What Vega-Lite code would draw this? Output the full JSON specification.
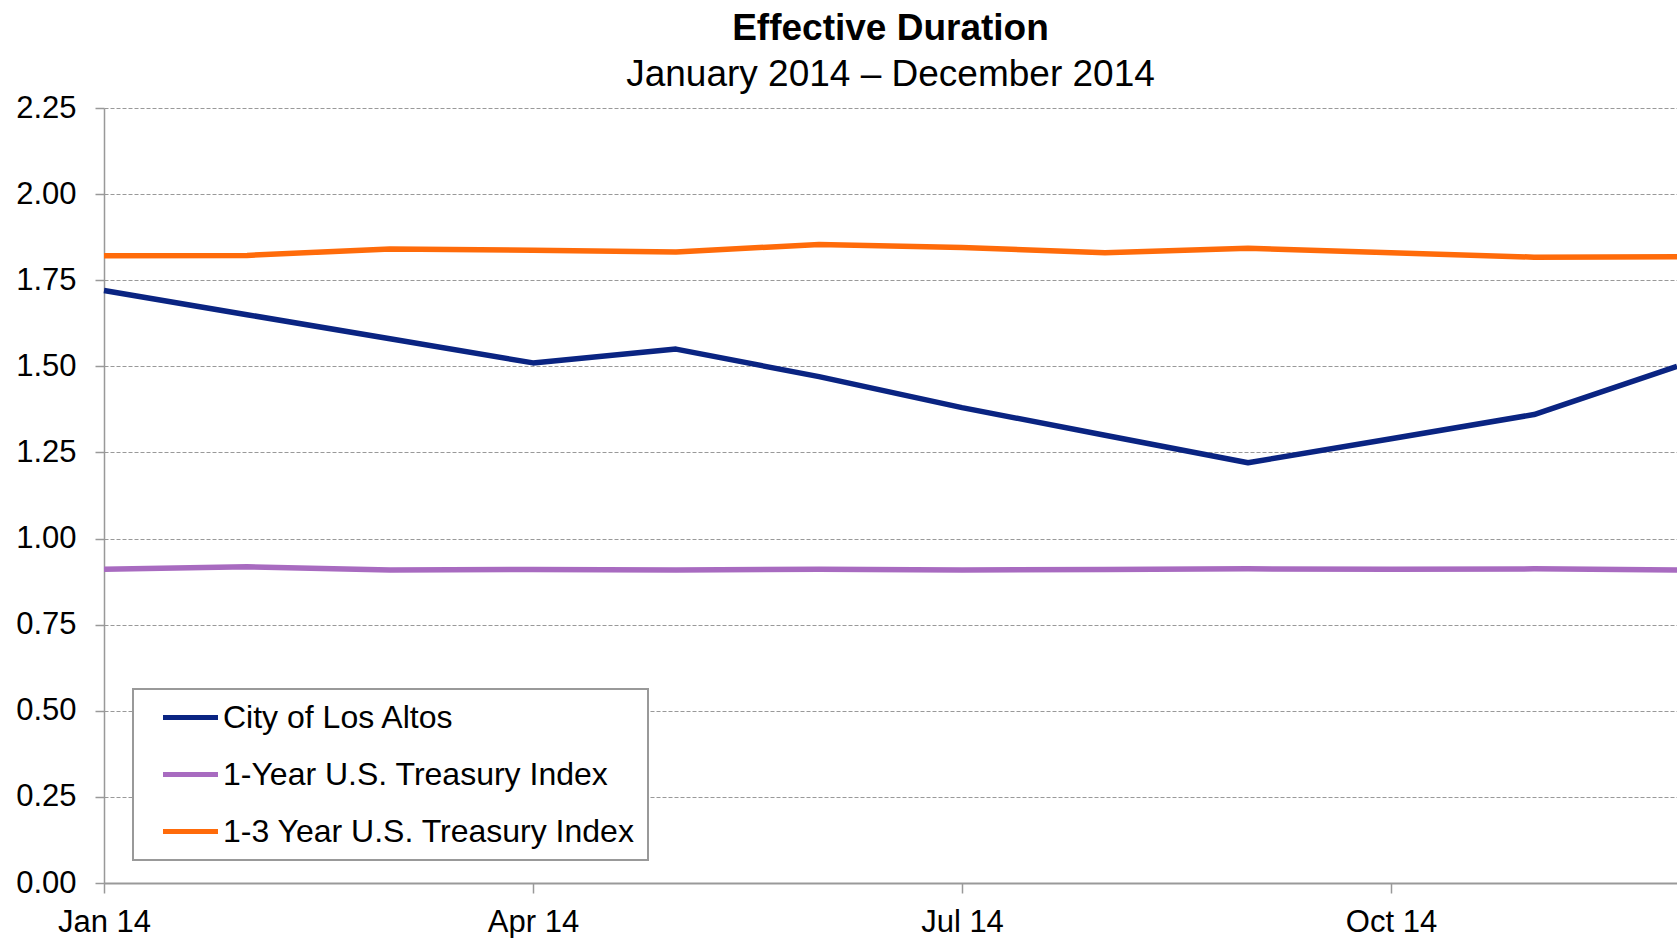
{
  "$schema": "https://vega.github.io/schema/vega-lite/v6.json",
  "width": 1573,
  "height": 775,
  "autosize": {"type": "none"},
  "padding": {"left": 104, "top": 108, "right": 0, "bottom": 55},
  "background": "white",
  "title": {
    "text": "Effective Duration",
    "subtitle": "January 2014 – December 2014",
    "anchor": "middle",
    "font": "Liberation Sans",
    "fontSize": 37,
    "fontWeight": "bold",
    "color": "black",
    "subtitleFont": "Liberation Sans",
    "subtitleFontSize": 37,
    "subtitleColor": "black",
    "subtitlePadding": 9,
    "offset": -2
  },
  "config": {
    "view": {"stroke": null},
    "axis": {
      "labelFont": "Liberation Sans",
      "labelFontSize": 31,
      "labelColor": "black",
      "domainColor": "#999999",
      "tickColor": "#999999",
      "title": null
    }
  },
  "data": {
    "values": [
      {"month": "Jan 14", "series": "City of Los Altos", "value": 1.72},
      {"month": "Feb 14", "series": "City of Los Altos", "value": 1.65},
      {"month": "Mar 14", "series": "City of Los Altos", "value": 1.58},
      {"month": "Apr 14", "series": "City of Los Altos", "value": 1.51},
      {"month": "May 14", "series": "City of Los Altos", "value": 1.55},
      {"month": "Jun 14", "series": "City of Los Altos", "value": 1.47},
      {"month": "Jul 14", "series": "City of Los Altos", "value": 1.38},
      {"month": "Aug 14", "series": "City of Los Altos", "value": 1.30},
      {"month": "Sep 14", "series": "City of Los Altos", "value": 1.22},
      {"month": "Oct 14", "series": "City of Los Altos", "value": 1.29},
      {"month": "Nov 14", "series": "City of Los Altos", "value": 1.36},
      {"month": "Dec 14", "series": "City of Los Altos", "value": 1.50},
      {"month": "Jan 14", "series": "1-Year U.S. Treasury Index", "value": 0.911},
      {"month": "Feb 14", "series": "1-Year U.S. Treasury Index", "value": 0.918},
      {"month": "Mar 14", "series": "1-Year U.S. Treasury Index", "value": 0.909},
      {"month": "Apr 14", "series": "1-Year U.S. Treasury Index", "value": 0.910},
      {"month": "May 14", "series": "1-Year U.S. Treasury Index", "value": 0.909},
      {"month": "Jun 14", "series": "1-Year U.S. Treasury Index", "value": 0.911},
      {"month": "Jul 14", "series": "1-Year U.S. Treasury Index", "value": 0.909},
      {"month": "Aug 14", "series": "1-Year U.S. Treasury Index", "value": 0.910},
      {"month": "Sep 14", "series": "1-Year U.S. Treasury Index", "value": 0.912},
      {"month": "Oct 14", "series": "1-Year U.S. Treasury Index", "value": 0.911},
      {"month": "Nov 14", "series": "1-Year U.S. Treasury Index", "value": 0.912},
      {"month": "Dec 14", "series": "1-Year U.S. Treasury Index", "value": 0.909},
      {"month": "Jan 14", "series": "1-3 Year U.S. Treasury Index", "value": 1.821},
      {"month": "Feb 14", "series": "1-3 Year U.S. Treasury Index", "value": 1.822},
      {"month": "Mar 14", "series": "1-3 Year U.S. Treasury Index", "value": 1.841},
      {"month": "Apr 14", "series": "1-3 Year U.S. Treasury Index", "value": 1.837},
      {"month": "May 14", "series": "1-3 Year U.S. Treasury Index", "value": 1.832},
      {"month": "Jun 14", "series": "1-3 Year U.S. Treasury Index", "value": 1.854},
      {"month": "Jul 14", "series": "1-3 Year U.S. Treasury Index", "value": 1.845},
      {"month": "Aug 14", "series": "1-3 Year U.S. Treasury Index", "value": 1.830},
      {"month": "Sep 14", "series": "1-3 Year U.S. Treasury Index", "value": 1.843},
      {"month": "Oct 14", "series": "1-3 Year U.S. Treasury Index", "value": 1.830},
      {"month": "Nov 14", "series": "1-3 Year U.S. Treasury Index", "value": 1.817},
      {"month": "Dec 14", "series": "1-3 Year U.S. Treasury Index", "value": 1.818}
    ]
  },
  "mark": {"type": "line", "strokeWidth": 5.5, "strokeJoin": "round", "clip": false},
  "encoding": {
    "x": {
      "field": "month",
      "type": "ordinal",
      "sort": null,
      "scale": {"type": "point", "padding": 0},
      "axis": {
        "values": ["Jan 14", "Apr 14", "Jul 14", "Oct 14"],
        "labelAngle": 0,
        "domainWidth": 2,
        "tickSize": 10,
        "tickWidth": 1.5,
        "labelPadding": 14,
        "grid": false
      }
    },
    "y": {
      "field": "value",
      "type": "quantitative",
      "scale": {"domain": [0, 2.25], "nice": false, "zero": true},
      "axis": {
        "values": [0, 0.25, 0.5, 0.75, 1, 1.25, 1.5, 1.75, 2, 2.25],
        "format": ".2f",
        "tickSize": 9,
        "tickWidth": 1.5,
        "domainWidth": 1.5,
        "labelPadding": 19,
        "grid": true,
        "gridColor": "#999999",
        "gridDash": [4, 2],
        "gridWidth": 1.2
      }
    },
    "color": {
      "field": "series",
      "type": "nominal",
      "scale": {
        "domain": ["City of Los Altos", "1-Year U.S. Treasury Index", "1-3 Year U.S. Treasury Index"],
        "range": ["#0a2482", "#a86bc0", "#ff6b0a"]
      },
      "legend": {
        "title": null,
        "orient": "none",
        "legendX": 29,
        "legendY": 581,
        "direction": "vertical",
        "fillColor": "white",
        "strokeColor": "#999999",
        "padding": 12,
        "symbolType": "M-2,0H2",
        "symbolSize": 756,
        "symbolStrokeWidth": 5,
        "symbolOffset": 29,
        "labelOffset": 16,
        "labelFont": "Liberation Sans",
        "labelFontSize": 32,
        "labelColor": "black",
        "labelLimit": 700,
        "labelExpr": "datum.label + '\u00a0\u00a0\u00a0\u00a0'",
        "rowPadding": 24,
        "encode": {"legend": {"update": {"strokeWidth": {"value": 2}}}}
      }
    }
  }
}
